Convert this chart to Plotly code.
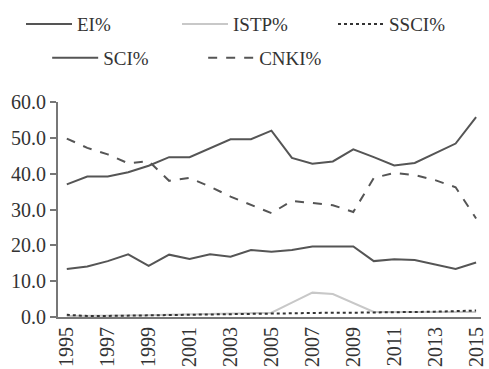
import plotly.graph_objects as go

years = list(range(1995, 2016))
ei = [37.0, 39.2, 39.2, 40.4, 42.2, 44.6, 44.6, 47.2, 49.6, 49.6, 52.0, 44.4, 42.8, 43.4, 46.8, 44.6, 42.3, 43.0, 45.6, 48.4, 55.8]
sci = [13.4, 14.1, 15.6, 17.5, 14.3, 17.4, 16.2, 17.5, 16.8, 18.7, 18.2, 18.7, 19.7, 19.7, 19.7, 15.6, 16.1, 15.9, 14.7, 13.4, 15.2]
cnki = [49.8, 47.2, 45.4, 42.9, 43.5, 38.0, 38.8, 36.4, 33.6, 31.2, 29.0, 32.4, 31.7, 31.2, 29.3, 38.8, 40.2, 39.6, 38.2, 36.2, 27.5]
istp = [0.3, 0.3, 0.4, 0.4, 0.5, 0.6, 0.7, 0.8, 0.9, 1.0, 1.2, 4.0, 6.8, 6.4, 3.9, 1.4, 1.4, 1.4, 1.4, 1.4, 1.4]
ssci = [0.6, 0.3, 0.3, 0.4, 0.4, 0.5, 0.6, 0.7, 0.8, 0.9, 1.1, 1.2, 1.2, 1.2, 1.2, 1.2, 1.3, 1.4, 1.5, 1.7, 1.8]
tick_years = list(range(1995, 2016, 2))
y_ticks = [0, 10, 20, 30, 40, 50, 60]

dark = "#555555"
fig = go.Figure()
fig.add_trace(go.Scatter(x=years, y=ei, name="EI%", mode="lines",
                         line=dict(color=dark, width=2), legend="legend"))
fig.add_trace(go.Scatter(x=years, y=istp, name="ISTP%", mode="lines",
                         line=dict(color="#c8c8c8", width=2), legend="legend"))
fig.add_trace(go.Scatter(x=years, y=ssci, name="SSCI%", mode="lines",
                         line=dict(color="#333333", width=2, dash="dot"), legend="legend"))
fig.add_trace(go.Scatter(x=years, y=sci, name="SCI%", mode="lines",
                         line=dict(color=dark, width=2), legend="legend2"))
fig.add_trace(go.Scatter(x=years, y=cnki, name="CNKI%", mode="lines",
                         line=dict(color=dark, width=2, dash="dash"), legend="legend2"))

font = dict(family="Liberation Serif", size=20, color="#333333")
legfont = dict(family="Liberation Serif", size=19, color="#333333")
leg_common = dict(orientation="h", x=-0.0256, xanchor="left", yanchor="top",
                  font=legfont, entrywidth=95, itemwidth=46, bgcolor="rgba(0,0,0,0)")
fig.update_layout(
    width=489, height=369,
    margin=dict(l=58, r=2, t=102, b=50),
    paper_bgcolor="white", plot_bgcolor="white",
    font=font,
    showlegend=True,
    legend=dict(y=1.451, **leg_common),
    legend2=dict(y=1.293, **leg_common),
    xaxis=dict(range=[1994.57, 2015.24], tickmode="array", tickvals=tick_years,
               ticktext=[str(y) for y in tick_years], tickangle=-90,
               ticklabeloverflow="allow",
               showgrid=False, zeroline=False, showline=True, linecolor="#777777",
               linewidth=2, ticks="", tickfont=font),
    yaxis=dict(range=[0, 60], tickmode="array", tickvals=y_ticks,
               ticktext=[f"{v:.1f}" for v in y_ticks],
               showgrid=False, zeroline=False, showline=True, linecolor="#777777",
               linewidth=2, ticks="outside", ticklen=6, tickcolor="#777777",
               tickwidth=2, tickfont=font),
)
fig.write_html("out.html", config={"displayModeBar": False},
               post_script="document.body.style.margin='0';document.body.style.overflow='hidden';")
